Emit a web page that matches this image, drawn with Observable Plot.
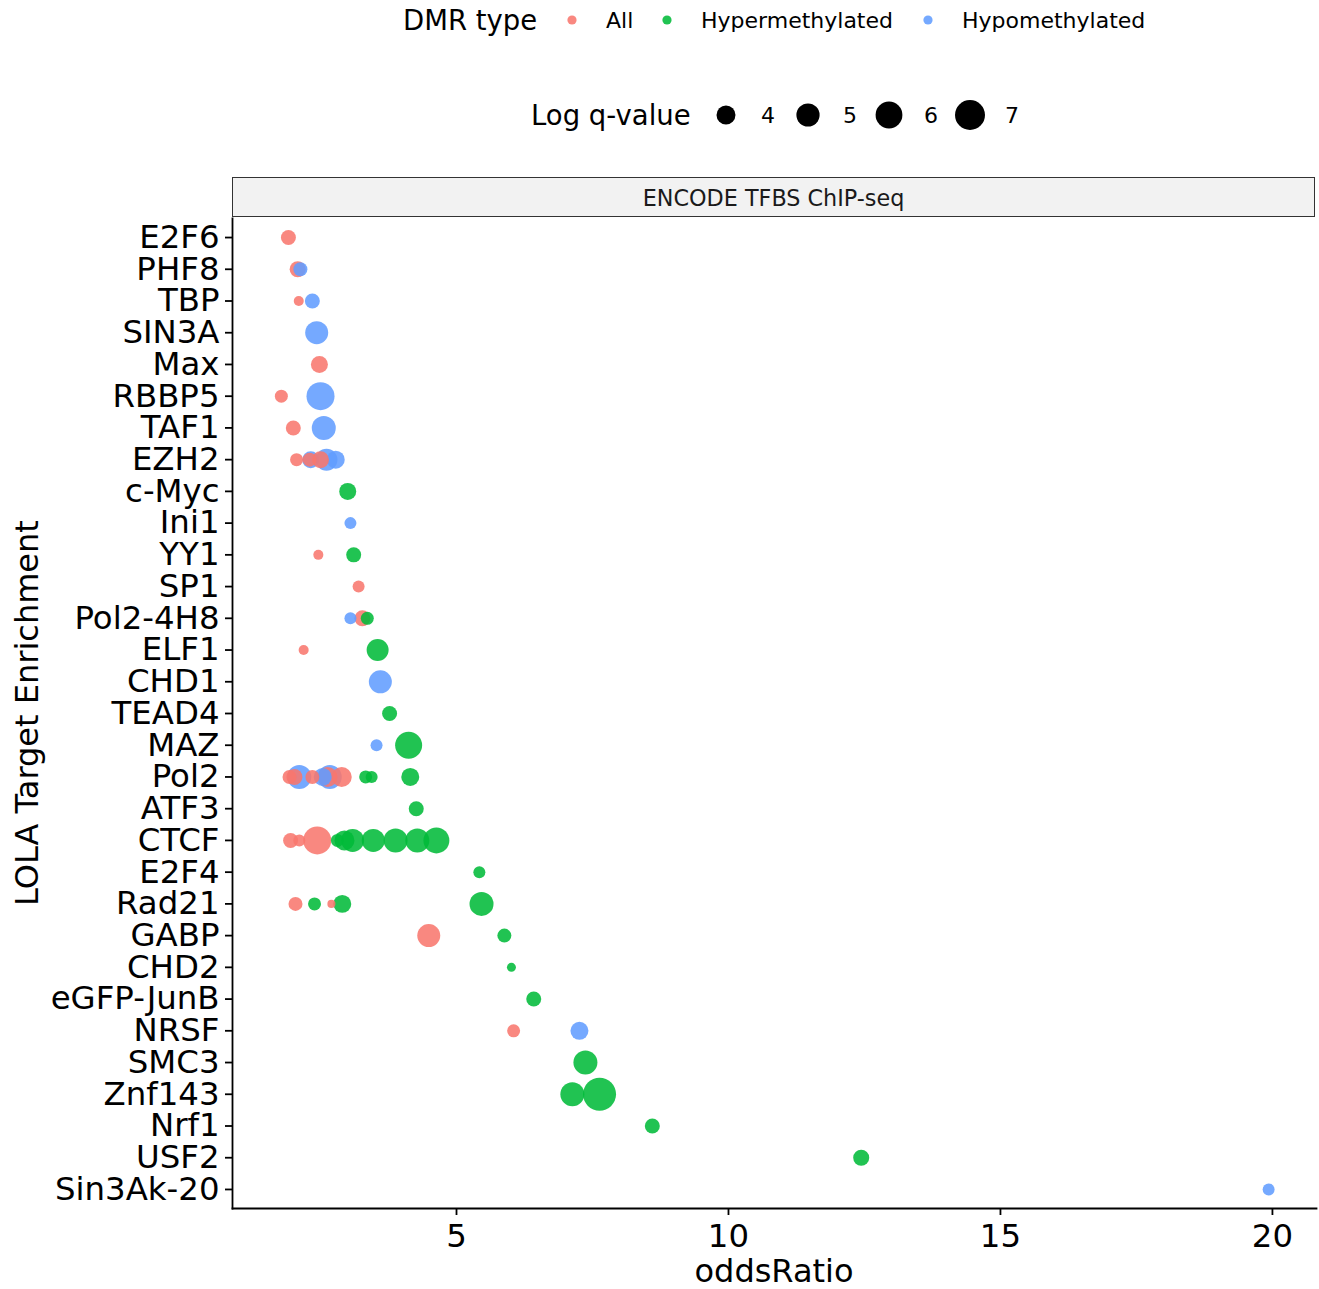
<!DOCTYPE html>
<html>
<head>
<meta charset="utf-8">
<script src="https://cdn.jsdelivr.net/npm/d3@7"></script>
<script src="https://cdn.jsdelivr.net/npm/@observablehq/plot@0.6"></script>
<style>
  html, body { margin: 0; padding: 0; background: white; }
  body { font-family: "DejaVu Sans", sans-serif; color: black; }
  #root { position: relative; width: 1319px; height: 1289px; overflow: hidden; }
  #chart { position: absolute; left: 0; top: 0; }
  #chart svg line, #chart svg path { stroke-width: 1.8px; }
  .abs { position: absolute; white-space: nowrap; }
  #strip { left: 232px; top: 177px; width: 1081px; height: 38px; background: #f2f2f2;
           border: 1.6px solid #333; font-size: 22.3px; color: #1a1a1a; text-align: center; line-height: 40px; }
</style>
</head>
<body>
<div id="root">
  <div id="chart"></div>
  <div id="strip" class="abs">ENCODE TFBS ChIP-seq</div>
  <div id="xtitle" class="abs" style="left:0;width:1548px;top:1252px;font-size:32px;text-align:center;">oddsRatio</div>
  <div id="ytitle" class="abs" style="left:27px;top:713px;font-size:32px;transform:translate(-50%,-50%) rotate(-90deg);">LOLA Target Enrichment</div>
  <svg id="legend" class="abs" style="left:0;top:0" width="1319" height="160"></svg>
</div>
<script>
// ---- data ----
const targets = ["E2F6","PHF8","TBP","SIN3A","Max","RBBP5","TAF1","EZH2","c-Myc","Ini1","YY1","SP1",
  "Pol2-4H8","ELF1","CHD1","TEAD4","MAZ","Pol2","ATF3","CTCF","E2F4","Rad21","GABP","CHD2",
  "eGFP-JunB","NRSF","SMC3","Znf143","Nrf1","USF2","Sin3Ak-20"];
const dmrTypes = ["All","Hypermethylated","Hypomethylated"];
const dmrColors = ["#F8766D","#00BA38","#619CFF"];
const sizeBreaks = [4,5,6,7];

const ptTarget = [
  "E2F6",
  "PHF8","PHF8",
  "TBP","TBP",
  "SIN3A",
  "Max",
  "RBBP5","RBBP5",
  "TAF1","TAF1",
  "EZH2","EZH2","EZH2","EZH2","EZH2","EZH2",
  "c-Myc",
  "Ini1",
  "YY1","YY1",
  "SP1",
  "Pol2-4H8","Pol2-4H8","Pol2-4H8",
  "ELF1","ELF1",
  "CHD1",
  "TEAD4",
  "MAZ","MAZ",
  "Pol2","Pol2","Pol2","Pol2","Pol2","Pol2","Pol2","Pol2","Pol2","Pol2","Pol2",
  "ATF3",
  "CTCF","CTCF","CTCF","CTCF","CTCF","CTCF","CTCF","CTCF","CTCF","CTCF",
  "E2F4",
  "Rad21","Rad21","Rad21","Rad21","Rad21",
  "GABP","GABP",
  "CHD2",
  "eGFP-JunB",
  "NRSF","NRSF",
  "SMC3",
  "Znf143","Znf143",
  "Nrf1",
  "USF2",
  "Sin3Ak-20"
];
const ptType = [
  "All",
  "Hypomethylated","All",
  "All","Hypomethylated",
  "Hypomethylated",
  "All",
  "All","Hypomethylated",
  "All","Hypomethylated",
  "All","Hypomethylated","All","Hypomethylated","Hypomethylated","All",
  "Hypermethylated",
  "Hypomethylated",
  "All","Hypermethylated",
  "All",
  "Hypomethylated","Hypermethylated","All",
  "All","Hypermethylated",
  "Hypomethylated",
  "Hypermethylated",
  "Hypomethylated","Hypermethylated",
  "All","Hypomethylated","All","All","Hypomethylated","Hypomethylated","All","All","Hypermethylated","Hypermethylated","Hypermethylated",
  "Hypermethylated",
  "All","All","Hypermethylated","Hypermethylated","Hypermethylated","Hypermethylated","Hypermethylated","Hypermethylated","Hypermethylated","All",
  "Hypermethylated",
  "All","Hypermethylated","Hypermethylated","All","Hypermethylated",
  "All","Hypermethylated",
  "Hypermethylated",
  "Hypermethylated",
  "All","Hypomethylated",
  "Hypermethylated",
  "Hypermethylated","Hypermethylated",
  "Hypermethylated",
  "Hypermethylated",
  "Hypomethylated"
];
const ptOdds = [
  1.91,
  2.13, 2.08,
  2.10, 2.35,
  2.43,
  2.48,
  1.78, 2.50,
  2.00, 2.56,
  2.06, 2.32, 2.30, 2.78, 2.61, 2.50,
  3.00,
  3.05,
  2.46, 3.11,
  3.20,
  3.05, 3.36, 3.27,
  2.19, 3.55,
  3.60,
  3.77,
  3.53, 4.12,
  1.93, 2.11, 2.02, 2.35, 2.54, 2.67, 2.63, 2.89, 3.33, 3.44, 4.15,
  4.26,
  1.95, 2.11, 2.81, 2.94, 3.09, 3.47, 3.88, 4.28, 4.63, 2.44,
  5.42,
  2.04, 2.39, 2.90, 2.70, 5.46,
  4.49, 5.88,
  6.01,
  6.42,
  6.05, 7.26,
  7.37,
  7.13, 7.63,
  8.60,
  12.44,
  19.93
];
const ptLogQ = [
  3.25,
  3.09, 3.43,
  2.56, 3.25,
  4.95,
  3.61,
  2.94, 6.37,
  3.25, 5.21,
  2.94, 3.61, 3.09, 3.80, 4.69, 3.61,
  3.61,
  2.80,
  2.56, 3.25,
  2.80,
  2.80, 2.94, 3.43,
  2.56, 4.69,
  4.95,
  3.25,
  2.80, 6.06,
  3.09, 5.21, 3.43, 3.09, 3.80, 5.21, 4.23, 4.23, 2.94, 2.80, 3.80,
  3.25,
  3.25, 2.80, 2.94, 4.23, 4.95, 4.95, 5.21, 5.21, 5.76, 6.37,
  2.80,
  3.09, 2.94, 3.80, 2.36, 5.21,
  4.95, 3.09,
  2.45,
  3.25,
  2.94, 3.80,
  5.21,
  5.21, 8.06,
  3.25,
  3.43,
  2.80
];

const data = ptTarget.map((t, i) => ({target: t, type: ptType[i], oddsRatio: ptOdds[i], logq: ptLogQ[i]}));

// size scale mimicking ggplot's area scale: radius ~ sqrt of rescaled value
const rDomain = [2, 8.2];
const rMax = 6.7 * Math.sqrt(rDomain[1] - rDomain[0]);
const dotOpacity = 0.87;

const chart = Plot.plot({
  width: 1319,
  height: 1289,
  marginTop: 218,
  marginLeft: 232,
  marginRight: 3,
  marginBottom: 81,
  style: {fontFamily: "DejaVu Sans", fontSize: "32.4px", color: "black", background: "transparent", overflow: "visible"},
  x: {domain: [0.882, 20.81], ticks: [5, 10, 15, 20], tickFormat: d3.format("d"), label: null, line: true, tickSize: 7, tickPadding: 8},
  y: {type: "point", domain: targets, padding: 0.6, round: false, label: null, line: true, tickSize: 7, tickPadding: 6},
  r: {type: "linear", domain: rDomain, range: [0, 1], interpolate: t => rMax * Math.sqrt(Math.max(0, t))},
  color: {domain: dmrTypes, range: dmrColors},
  marks: [
    Plot.dot(data, {x: "oddsRatio", y: "target", r: "logq", fill: "type", fillOpacity: dotOpacity, stroke: null})
  ]
});
document.getElementById("chart").appendChild(chart);

// ---- legends ----
let rFn;
try { const s = chart.scale("r"); rFn = v => s.apply(v); if (!isFinite(rFn(5))) throw 0; }
catch (e) { rFn = v => rMax * Math.sqrt(Math.max(0, (v - rDomain[0]) / (rDomain[1] - rDomain[0]))); }

const lg = d3.select("#legend").style("font-family", "DejaVu Sans");
// DMR type legend
lg.append("text").attr("x", 403).attr("y", 30).attr("font-size", 27.5).text("DMR type");
const keyX = [572, 667, 928];
dmrTypes.forEach((t, i) => {
  lg.append("circle").attr("cx", keyX[i]).attr("cy", 20).attr("r", 4.6).attr("fill", dmrColors[i]).attr("fill-opacity", dotOpacity);
  lg.append("text").attr("x", keyX[i] + 34).attr("y", 28).attr("font-size", 22).text(t);
});
// Log q-value legend
lg.append("text").attr("x", 531).attr("y", 125).attr("font-size", 27.5).text("Log q-value");
const sizeX = [726, 808, 889, 970];
sizeBreaks.forEach((v, i) => {
  lg.append("circle").attr("cx", sizeX[i]).attr("cy", 115).attr("r", rFn(v)).attr("fill", "black");
  lg.append("text").attr("x", sizeX[i] + 35).attr("y", 123).attr("font-size", 22).text(String(v));
});
</script>
</body>
</html>
